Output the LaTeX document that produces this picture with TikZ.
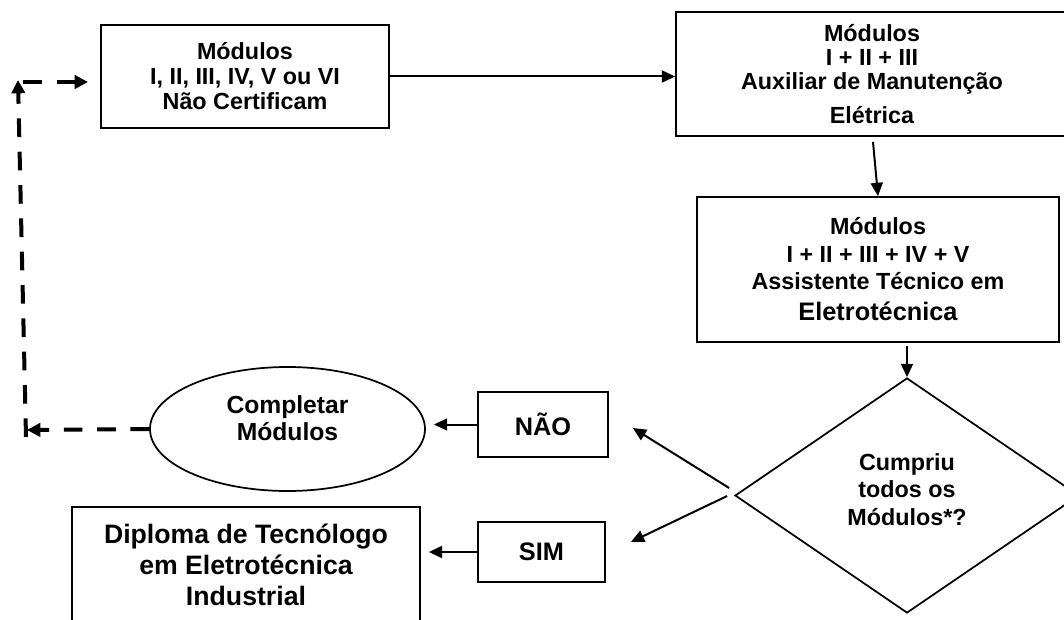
\documentclass[tikz,border=0pt]{standalone}
\usepackage{fontspec}
\setmainfont{Liberation Sans}
\usetikzlibrary{arrows.meta,shapes.geometric}
\begin{document}
\begin{tikzpicture}[x=0.75pt,y=-0.75pt,
  txt/.style={align=center,font=\bfseries\fontsize{17.5}{18.75}\selectfont},
  box/.style={draw=black,line width=1.3pt,rectangle,inner sep=0pt,txt},
  arr/.style={line width=1.5pt,-{Triangle[length=10pt,width=9pt]}},
  darr/.style={line width=3pt,dash pattern=on 14pt off 11pt,-{Triangle[length=10pt,width=10pt]}},
]
\useasboundingbox (0,0) rectangle (1064,620);
\clip (0,0) rectangle (1064,620);
\fill[white] (0,0) rectangle (1064,620);

% boxes
\node[box,minimum width=216pt,minimum height=77.25pt] (b1) at (245,76.5)
  {Módulos\\I, II, III, IV, V ou VI\\Não Certificam};
\node[box,minimum width=294pt,minimum height=93pt,font=\bfseries\fontsize{17.5}{18}\selectfont] (b2) at (872,74)
  {Módulos\\I + II + III\\Auxiliar de Manutenção\\[7pt]Elétrica};
\node[box,minimum width=271.5pt,minimum height=108.75pt,font=\bfseries\fontsize{17.5}{20.5}\selectfont] (b3) at (878,269.5)
  {Módulos\\I + II + III + IV + V\\Assistente Técnico em\\[3pt]{\fontsize{19}{20.5}\selectfont Eletrotécnica}};
\node[diamond,draw=black,line width=1.3pt,inner sep=0pt,minimum width=258pt,minimum height=176.25pt,
  txt,font=\bfseries\fontsize{17.5}{20.6}\selectfont,text depth=9pt] (dia) at (907,495.5)
  {Cumpriu\\todos os\\Módulos*?};
\node[ellipse,draw=black,line width=1.3pt,inner sep=0pt,minimum width=206.25pt,minimum height=93pt,
  txt,font=\bfseries\fontsize{18.5}{20.25}\selectfont,text depth=16pt] (ell) at (287.5,429)
  {Completar\\Módulos};
\node[box,minimum width=97.5pt,minimum height=48.75pt,font=\bfseries\fontsize{19}{22}\selectfont] (nao) at (543,424.5) {NÃO};
\node[box,minimum width=95.25pt,minimum height=45pt,font=\bfseries\fontsize{19}{22}\selectfont] (sim) at (541.5,552) {SIM};
\node[box,minimum width=261pt,minimum height=86.25pt,font=\bfseries\fontsize{20}{23.25}\selectfont] (dip) at (246,564.5)
  {Diploma de Tecnólogo\\em Eletrotécnica\\Industrial};

% solid connectors
\draw[arr] (b1.east) -- (b1.east -| b2.west);
\draw[arr] ([shift={(1,5)}]b2.south) -- (b3.north);
\draw[arr] ([shift={(0,3)}]b3.south -| dia.north) -- (dia.north);
\draw[arr] ([shift={(-5,-7.5)}]dia.west) -- ([shift={(24,3.5)}]nao.east);
\draw[arr] ([shift={(-7,0.5)}]dia.west) -- ([shift={(25,-10)}]sim.east);
\draw[arr] (nao.west) -- ([xshift=6pt]nao.west -| ell.east);
\draw[arr] (sim.west) -- ([xshift=6pt]sim.west -| dip.east);

% dashed return path
\coordinate (cbl) at (27,430);
\coordinate (ctl) at (18,80);
\coordinate (ctr) at (88,82);
\draw[darr] (ell.west) -- (cbl);
\draw[darr] (26,437) -- (ctl);
\draw[darr] ([xshift=4pt]ctl |- ctr) -- (ctr);
\end{tikzpicture}
\end{document}
